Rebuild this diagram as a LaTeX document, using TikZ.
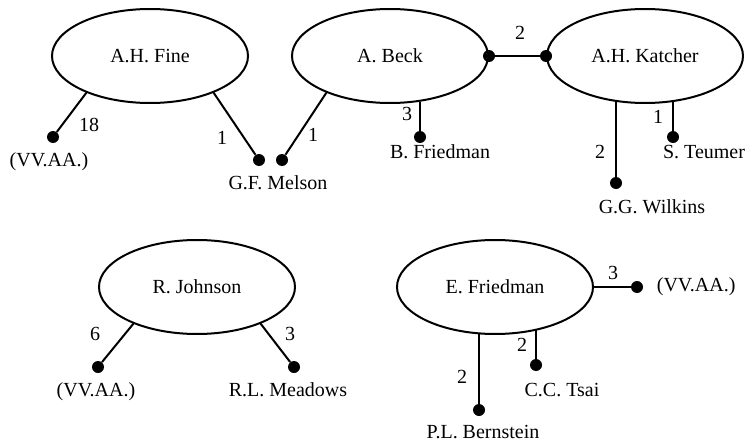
\documentclass[tikz,border=0pt]{standalone}
\usepackage{fontspec}
\setmainfont{Liberation Serif}
\usepackage{tikz}
\usetikzlibrary{shapes,positioning,calc}

\tikzset{
  author/.style={ellipse, draw, line width=1.2pt, inner sep=0pt,
    minimum width=117.6pt, minimum height=56.4pt},
  pt/.style={circle, fill, inner sep=0pt, minimum size=7.2pt},
  lnk/.style={line width=1.2pt}
}

\begin{document}
\begin{tikzpicture}[x=0.6pt,y=-0.6pt,font=\fontsize{12}{14}\selectfont]
            \useasboundingbox (0,0) rectangle (748,443);
            % first group
            \node[author] (fine) at (150,56) {A.H. Fine};
            \node[author] (beck) at (390,56) {A. Beck};
            \node[author] (katcher) at (645,56) {A.H. Katcher};
            \node[pt] (fineVV) at (53,137) {};
            \node[pt] (fineMel) at (259,160) {};
            \node[pt] (beckMel) at (282,160) {};
            \node[pt] (beckBF) at (420,137) {};
            \node[pt] (beckR) at (beck.east) {};
            \node[pt] (katchL) at (katcher.west) {};
            \node[pt] (katchGW) at (616,183) {};
            \node[pt] (katchST) at (673,137) {};
            \node[anchor=center] (vv1) at (49,162) {(VV.AA.)};
            \node[anchor=center] (melson) at (278,183) {G.F. Melson};
            \node[anchor=center] (bfried) at (440,152) {B. Friedman};
            \node[anchor=center] (wilkins) at (652,207) {G.G. Wilkins};
            \node[anchor=center] (teumer) at (704,152) {S. Teumer};
            \draw[lnk] (fine.210) -- (fineVV);
            \draw[lnk] (fine.330) -- (fineMel);
            \draw[lnk] (beck.210) -- (beckMel);
            \draw[lnk] (beckBF |- beck.302) -- (beckBF);
            \draw[lnk] (beckR) -- (katchL);
            \draw[lnk] (katchGW |- katcher.237) -- (katchGW);
            \draw[lnk] (katchST |- katcher.302) -- (katchST);
            \node (n18) at (89,125) {18};
            \node (n1a) at (222,138) {1};
            \node (n1b) at (313,135) {1};
            \node (n2a) at (520,33) {2};
            \node (n3a) at (407,114) {3};
            \node (n2b) at (600,152) {2};
            \node (n1c) at (658,117) {1};
            % second group
            \node[author] (johnson) at (197,287) {R. Johnson};
            \node[pt] (johnVV) at (98,367) {};
            \node[pt] (johnRM) at (294,367) {};
            \node[anchor=center] (vv2) at (96,392) {(VV.AA.)};
            \node[anchor=center] (meadows) at (288,390) {R.L. Meadows};
            \draw[lnk] (johnson.210) -- (johnVV);
            \draw[lnk] (johnson.330) -- (johnRM);
            \node (n6) at (95,334) {6};
            \node (n3b) at (290,334) {3};
            % third group
            \node[author] (efried) at (495,287) {E. Friedman};
            \node[pt] (efVV) at (637,287) {};
            \node[pt] (efPB) at (479,410) {};
            \node[pt] (efCT) at (536,365) {};
            \node[anchor=west] (vv3) at (651,287) {(VV.AA.)};
            \node[anchor=center] (bernstein) at (483,432) {P.L. Bernstein};
            \node[anchor=center] (tsai) at (562,390) {C.C. Tsai};
            \draw[lnk] (efried.east) -- (efVV);
            \draw[lnk] (efPB |- efried.251) -- (efPB);
            \draw[lnk] (efCT |- efried.314) -- (efCT);
            \node (n3c) at (613,273) {3};
            \node (n2c) at (462,377) {2};
            \node (n2d) at (522,345) {2};
        \end{tikzpicture}
\end{document}
